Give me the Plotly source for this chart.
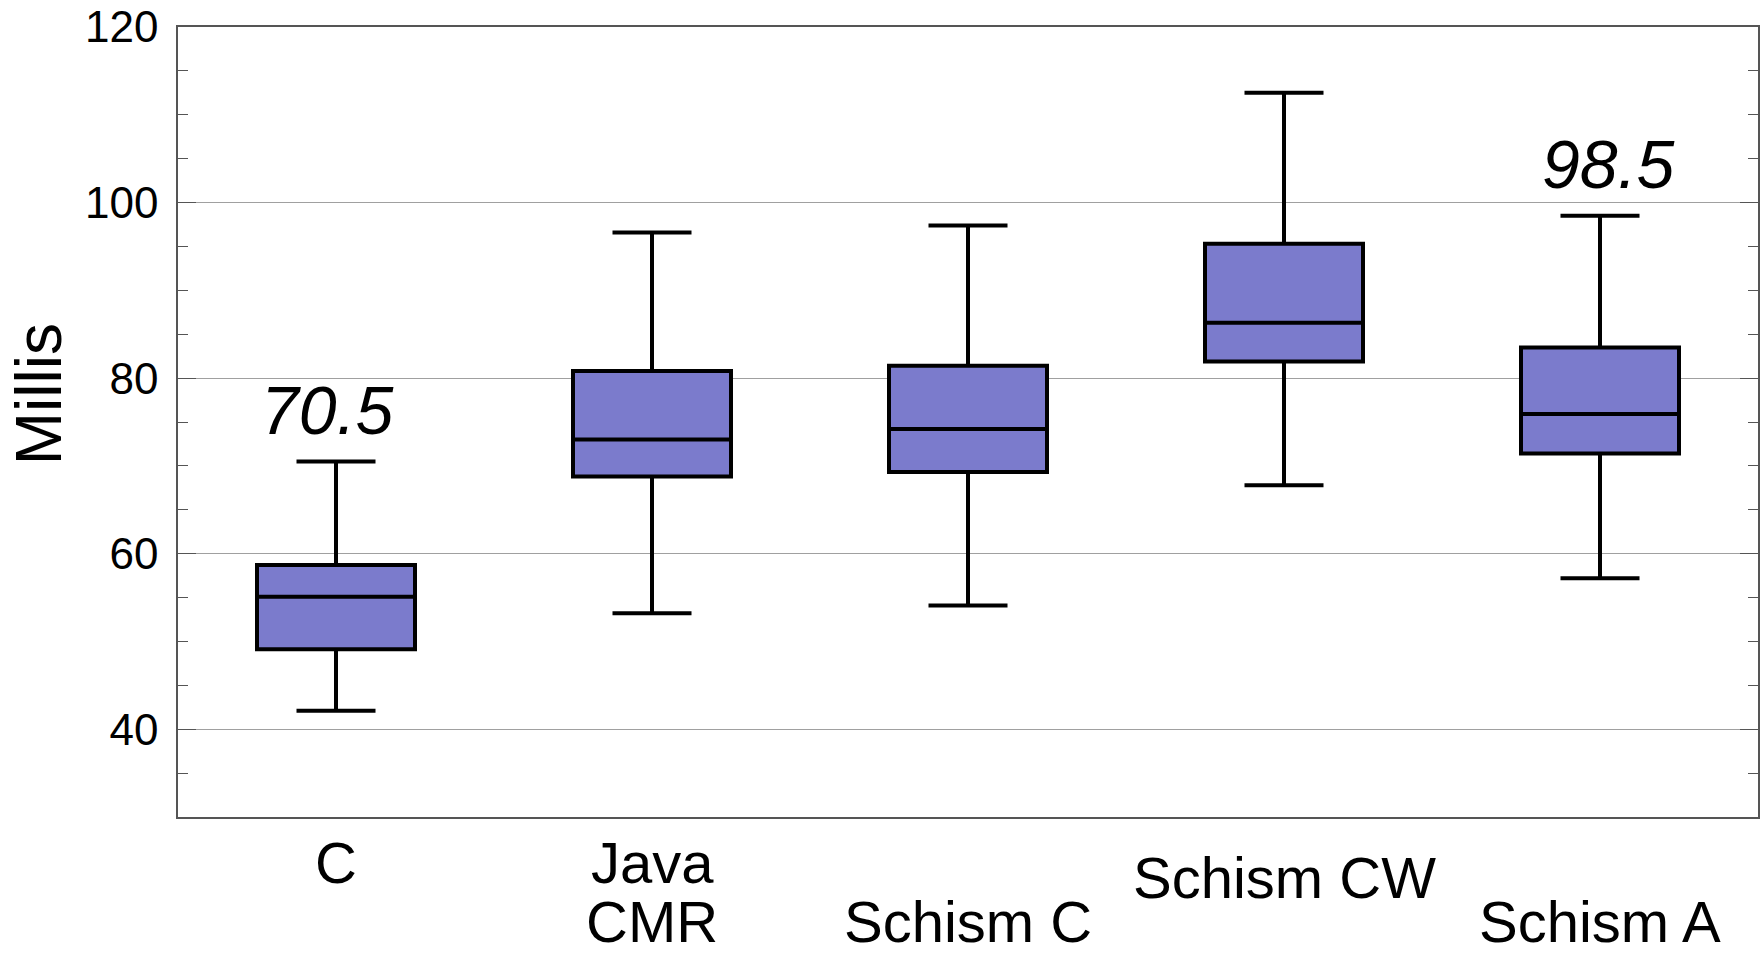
import plotly.graph_objects as go

# Timing distributions per implementation (milliseconds)
categories = ["C", "Java CMR", "Schism C", "Schism CW", "Schism A"]
tick_labels = ["C", "Java<br>CMR", "Schism C", "Schism CW", "Schism A"]
lower_whisker = [42.1, 53.2, 54.1, 67.8, 57.2]
q1 = [49.1, 68.8, 69.3, 81.9, 71.4]
median = [55.1, 73.0, 74.2, 86.3, 75.9]
q3 = [58.7, 80.8, 81.4, 95.3, 83.5]
upper_whisker = [70.5, 96.6, 97.4, 112.5, 98.5]

# which boxes get their upper whisker value printed above them
labelled = [0, 4]
labelled_xshift = [-9, 8]

y_ticks = [40, 60, 80, 100, 120]

FONT = "Liberation Sans, Arial, Helvetica, sans-serif"
BOX_FILL = "rgb(123,123,204)"

xpos = list(range(len(categories)))

fig = go.Figure()
fig.add_trace(go.Box(
    x=xpos,
    q1=q1,
    median=median,
    q3=q3,
    lowerfence=lower_whisker,
    upperfence=upper_whisker,
    width=0.5,
    whiskerwidth=0.5,
    fillcolor=BOX_FILL,
    line=dict(color="black", width=4),
    boxpoints=False,
    hoverinfo="skip",
    showlegend=False,
))

# category labels below the axis, staggered in rows
ROW_TOP = (-0.057, "middle")
ROW_MID = (-0.077, "middle")
ROW_LOW = (-0.176, "bottom")
# rows used by each line of each label
label_rows = [
    [ROW_TOP],
    [ROW_TOP, ROW_LOW],
    [ROW_LOW],
    [ROW_MID],
    [ROW_LOW],
]
for i, (lab, rows) in enumerate(zip(tick_labels, label_rows)):
    for line, (ly, anchor) in zip(lab.split("<br>"), rows):
        fig.add_annotation(
            x=i, y=ly, xref="x", yref="paper",
            text=line, showarrow=False,
            xanchor="center", yanchor=anchor,
            font=dict(family=FONT, size=58, color="black"),
        )

# whisker values printed above selected boxes
for i, dx in zip(labelled, labelled_xshift):
    fig.add_annotation(
        x=i, y=upper_whisker[i], xref="x", yref="y",
        text=f"<i>{upper_whisker[i]}</i>", showarrow=False,
        xanchor="center", yanchor="bottom", yshift=12, xshift=dx,
        font=dict(family=FONT, size=68, color="black"),
    )

# y-axis title
fig.add_annotation(
    x=-0.088, y=0.535, xref="paper", yref="paper",
    text="Millis", textangle=-90, showarrow=False,
    xanchor="center", yanchor="middle",
    font=dict(family=FONT, size=64, color="black"),
)

fig.update_layout(
    width=1762, height=958,
    margin=dict(l=178, r=2, t=27, b=141),
    paper_bgcolor="white",
    plot_bgcolor="white",
    font=dict(family=FONT, color="black"),
)
fig.update_xaxes(
    range=[-0.5, len(categories) - 0.5],
    showticklabels=False,
    ticks="",
    showgrid=False,
    zeroline=False,
    showline=True, linecolor="#555555", linewidth=1.5, mirror=True,
)
fig.update_yaxes(
    range=[30, 120],
    tickvals=y_ticks,
    ticktext=[str(v) for v in y_ticks],
    ticks="inside", ticklen=18, tickcolor="#555555", tickwidth=1.2,
    tickfont=dict(family=FONT, size=44, color="black"),
    ticklabelstandoff=9,
    showgrid=True, gridcolor="#a0a0a0", gridwidth=1,
    zeroline=False,
    showline=True, linecolor="#555555", linewidth=1.5, mirror="ticks",
    minor=dict(dtick=5, tick0=0, ticks="inside", ticklen=10,
               tickcolor="#555555", tickwidth=1.2, showgrid=False),
)

fig.write_html("out.html")
